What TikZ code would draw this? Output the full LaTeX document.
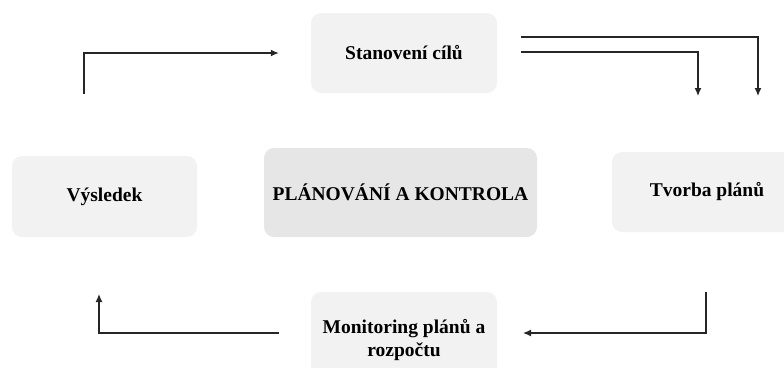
\documentclass[tikz,border=0pt]{standalone}
\usepackage{fontspec}
\setmainfont{Liberation Serif}
\usetikzlibrary{arrows.meta}
\definecolor{boxlight}{HTML}{F2F2F2}
\definecolor{boxdark}{HTML}{E6E6E6}
\definecolor{linegray}{HTML}{262626}
\begin{document}
\begin{tikzpicture}[x=1pt,y=-1pt,
  box/.style={fill=boxlight,rounded corners=10pt,align=center,
    font=\fontsize{19.5}{23}\selectfont\bfseries,inner sep=0pt},
  arr/.style={draw=linegray,line width=1.3pt,-{Latex[length=8pt,width=7pt]}}]
\useasboundingbox (0,0) rectangle (784,367);
\clip (0,0) rectangle (784,367);

\node [box,minimum width=186,minimum height=80] (goals) at (404,53) {Stanovení cílů};
\node [box,minimum width=185,minimum height=81] (result) at (104.5,196.5) {Výsledek};
\node [box,fill=boxdark,minimum width=273,minimum height=89] (core) at (400.5,192.5) {PLÁNOVÁNÍ A KONTROLA};
\node [box,minimum width=190,minimum height=80] (plans) at (707,192) {Tvorba plánů};
\node [box,minimum width=186,minimum height=96] (monitor) at (404,340) {Monitoring plánů a\\rozpočtu};

\coordinate (r1) at (84,94);
\coordinate (g1) at (521,37);
\coordinate (g2) at (521,52);
\coordinate (p1) at (706,292);
\coordinate (m1) at (279,333);

\draw [arr] (r1) |- ([xshift=-32pt]goals.west);
\draw [arr] (g1) -| (758,96);
\draw [arr] (g2) -| (698,96);
\draw [arr] (p1) |- (523,333);
\draw [arr] (m1) -| (99,294);
\end{tikzpicture}
\end{document}
